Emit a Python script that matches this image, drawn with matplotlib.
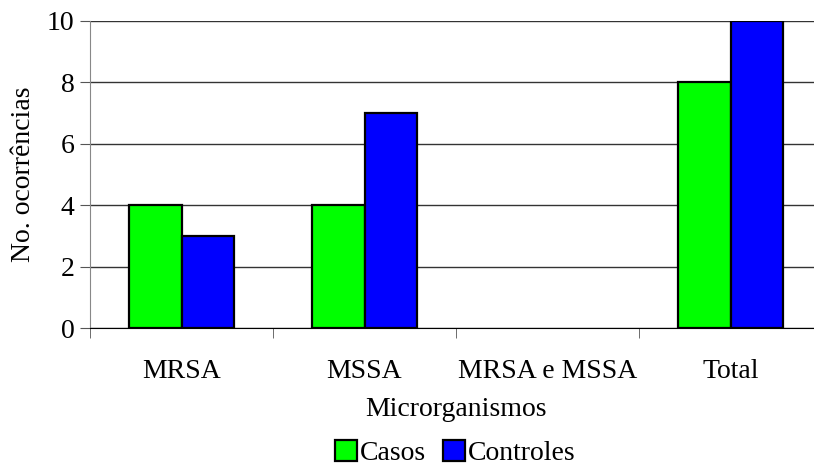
import numpy as np
import matplotlib.pyplot as plt

categorias = ['MRSA', 'MSSA', 'MRSA e MSSA', 'Total']
casos = [4, 4, 0, 8]
controles = [3, 7, 0, 10]

plt.rcParams['font.family'] = 'Liberation Serif'
plt.rcParams['font.size'] = 20

fig = plt.figure(figsize=(8.14, 4.68), dpi=100)
ax = fig.add_axes([90/814, 1 - 328/468, 732/814, 307/468])

x = np.arange(len(categorias))
w = 0.287
# sem contorno nas barras de valor zero
lw_casos = [1.6 if v > 0 else 0 for v in casos]
lw_contr = [1.6 if v > 0 else 0 for v in controles]
ax.bar(x - w/2, casos, w, color='#00ff00', edgecolor='black', linewidth=lw_casos, label='Casos', zorder=3)
ax.bar(x + w/2, controles, w, color='#0000ff', edgecolor='black', linewidth=lw_contr, label='Controles', zorder=3)

ax.set_xlim(-0.5, len(categorias) - 0.5)
ax.set_ylim(0, 10)
ax.set_yticks([0, 2, 4, 6, 8, 10])
ax.yaxis.grid(True, color='#333333', linewidth=1)
ax.set_axisbelow(True)

ax.set_xticks(x)
ax.set_xticklabels(categorias)
ax.set_xticks(np.arange(len(categorias) + 1) - 0.5, minor=True)
ax.tick_params(axis='x', which='major', length=0, pad=22)
ax.tick_params(axis='x', which='minor', length=7, color='#555555', direction='out')
ax.tick_params(axis='y', length=7, color='#555555', pad=4)

for s in ['top', 'right']:
    ax.spines[s].set_visible(False)
ax.spines['left'].set_color('#888888')
ax.spines['bottom'].set_color('black')

ax.set_xlabel('Microrganismos', labelpad=10)
ax.set_ylabel('No. ocorrências', labelpad=8)

leg = fig.legend(loc='center', bbox_to_anchor=(455/814, 1 - 453/468), ncol=2, frameon=False,
                 handlelength=0.8, handleheight=0.8, handletextpad=0.1, columnspacing=0.6,
                 borderpad=0.1)
for h in leg.legend_handles:
    h.set_linewidth(1.6)

fig.savefig('out.png', dpi=100)
